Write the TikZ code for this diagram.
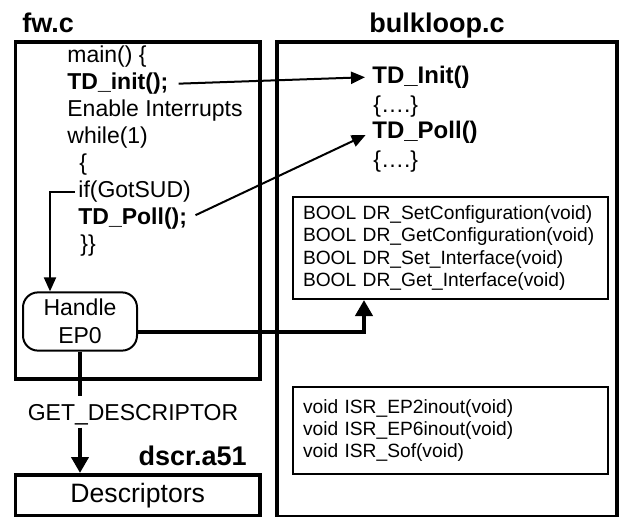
\documentclass[tikz,border=0pt]{standalone}
\usepackage{fontspec}
\setmainfont{Liberation Sans}
\usetikzlibrary{arrows.meta}

\begin{document}
\begin{tikzpicture}[x=0.5pt,y=-0.5pt,
		code/.style={anchor=west,inner sep=0pt,font=\fontsize{11.5}{13}\selectfont},
		call/.style={code,font=\fontsize{11.5}{13}\selectfont\bfseries},
		entry/.style={code,font=\fontsize{12}{14}\selectfont\bfseries},
		title/.style={anchor=base west,inner sep=0pt,font=\fontsize{13.5}{16}\selectfont\bfseries},
		frame/.style={draw,line width=1.75pt,anchor=north west,inner sep=0pt},
		funcbox/.style={draw,line width=1pt,anchor=north west,align=left,text width=147.5pt,inner xsep=5pt,minimum height=51pt,font=\fontsize{9.6}{11.2}\selectfont},
		thin/.style={line width=1pt,-{Triangle[length=7pt,width=6pt]}},
		fat/.style={line width=2pt,-{Triangle[length=8pt,width=8.5pt]}}]
	\useasboundingbox (0,0) rectangle (623,516);
	% file frames
	\node[title] (fwtitle) at (22,32) {fw.c};
	\node[title,anchor=base] (bulktitle) at (437,32) {bulkloop.c};
	\node[frame,minimum width=122pt,minimum height=168.5pt] (fw) at (14,40) {};
	\node[frame,minimum width=170pt,minimum height=237.5pt] (bulk) at (275,40) {};
	% main loop in fw.c
	\node[code] (mainline) at (67,57) {main() \{};
	\node[call] (init) at (67,84) {TD\_init();};
	\node[code] (enable) at (67,111) {Enable Interrupts};
	\node[code] (loop) at (67,138) {while(1)};
	\node[code] (open) at (79,165) {\{};
	\node[code] (ifsud) at (78,192) {if(GotSUD)};
	\node[call] (poll) at (78,219) {TD\_Poll();};
	\node[code] (close) at (80,246) {\}\}};
	\node[draw,line width=1pt,rounded corners=7.5pt,minimum width=57pt,minimum height=28.5pt,
		align=center,font=\fontsize{11.5}{14}\selectfont] (handle) at (80,321.5) {Handle\\EP0};
	% bulkloop.c
	\node[entry] (tdinit) at (372,77) {TD\_Init()};
	\node[code] (body1) at (373,107) {\{….\}};
	\node[entry] (tdpoll) at (372,132) {TD\_Poll()};
	\node[code] (body2) at (373,162) {\{….\}};
	\node[funcbox] (drbox) at (292,196) {BOOL DR\_SetConfiguration(void)\\BOOL DR\_GetConfiguration(void)\\BOOL DR\_Set\_Interface(void)\\BOOL DR\_Get\_Interface(void)};
	\node[funcbox,minimum height=43.5pt] (isrbox) at (292,386) {void ISR\_EP2inout(void)\\void ISR\_EP6inout(void)\\void ISR\_Sof(void)};
	% descriptors
	\node[font=\fontsize{11.5}{13}\selectfont,text height=8.25pt,text depth=0pt,inner xsep=0pt,inner ysep=3.5pt] (getdesc) at (133,412) {GET\_DESCRIPTOR};
	\node[title,anchor=base east] (dscrtitle) at (247,465) {dscr.a51};
	\node[frame,minimum width=122pt,minimum height=20.5pt,font=\fontsize{13.3}{16}\selectfont] (descr) at (14,473) {Descriptors};
	% calls
	\draw[thin,shorten <=5pt,shorten >=3.5pt] (init.east) -- (tdinit.west);
	\draw[thin,shorten <=4.5pt,shorten >=3.5pt] (poll.east) -- (tdpoll.west);
	\draw[thin,shorten <=1.5pt] (ifsud.west) -| ([xshift=-15pt]handle.north);
	\draw[fat] (handle.east) ++(0,10.5) -| ([xshift=-43.25pt]drbox.south);
	\draw[line width=2pt] (handle.south) -- (getdesc.north -| handle.south);
	\draw[fat] (getdesc.south -| handle.south) -- (descr.north -| handle.south);
\end{tikzpicture}
\end{document}
